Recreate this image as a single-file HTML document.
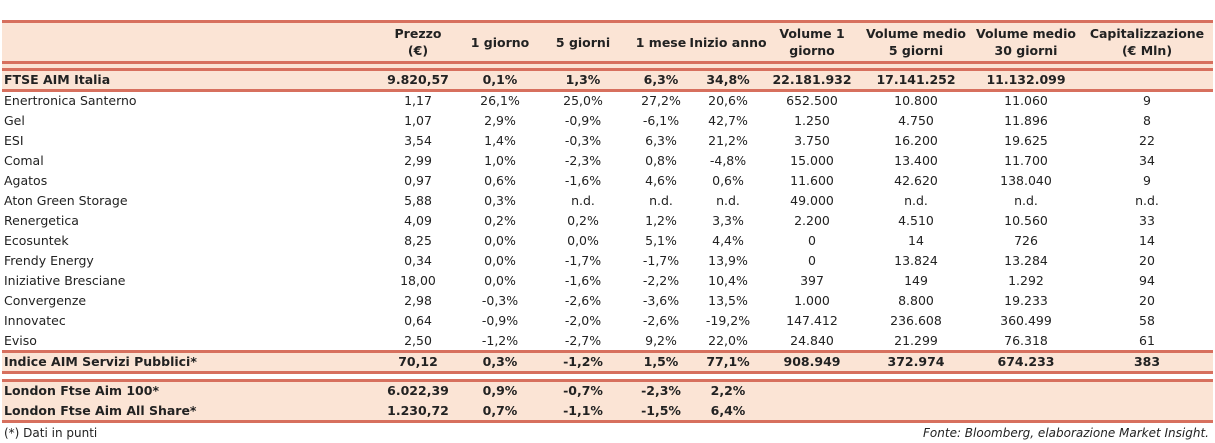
<!DOCTYPE html>
<html><head><meta charset="utf-8"><style>
body{margin:0;width:1215px;height:443px;background:#fff;font-family:"DejaVu Sans","Liberation Sans",sans-serif;position:relative;overflow:hidden;color:#222}
.band{position:absolute;left:2px;width:1211px;background:#fbe4d5}
.ln{position:absolute;left:2px;width:1211px;height:3px;background:#d7705e}
.c{position:absolute;white-space:nowrap;transform:translateX(-50%);font-size:12.5px;line-height:20px}
.n{position:absolute;left:4px;font-size:12.5px;line-height:20px;white-space:nowrap}
.b{font-weight:bold}
.h{position:absolute;transform:translateX(-50%);text-align:center;font-size:12.5px;font-weight:bold;line-height:17px;white-space:nowrap}
.foot{position:absolute;top:424px;font-size:12px;line-height:18px}
</style></head><body>
<div class="band" style="top:21px;height:49px"></div>
<div class="band" style="top:70px;height:20px"></div>
<div class="band" style="top:352px;height:21px"></div>
<div class="band" style="top:381px;height:40px"></div>
<div class="ln" style="top:20px"></div>
<div class="ln" style="top:61px"></div>
<div class="ln" style="top:68px"></div>
<div class="ln" style="top:89px"></div>
<div class="ln" style="top:350px"></div>
<div class="ln" style="top:371px"></div>
<div class="ln" style="top:379px"></div>
<div class="ln" style="top:420px"></div>
<div id="t"></div>
<div class="foot" style="left:4px">(*) Dati in punti</div>
<div class="foot" style="right:6px;font-style:italic">Fonte: Bloomberg, elaborazione Market Insight.</div>
<script>
const headers=[["Prezzo","(€)"],["1 giorno"],["5 giorni"],["1 mese"],["Inizio anno"],["Volume 1","giorno"],["Volume medio","5 giorni"],["Volume medio","30 giorni"],["Capitalizzazione","(€ Mln)"]];
const rowNames=["FTSE AIM Italia","Enertronica Santerno","Gel","ESI","Comal","Agatos","Aton Green Storage","Renergetica","Ecosuntek","Frendy Energy","Iniziative Bresciane","Convergenze","Innovatec","Eviso","Indice AIM Servizi Pubblici*","London Ftse Aim 100*","London Ftse Aim All Share*"];
const rowValues=[
["9.820,57","0,1%","1,3%","6,3%","34,8%","22.181.932","17.141.252","11.132.099",""],
["1,17","26,1%","25,0%","27,2%","20,6%","652.500","10.800","11.060","9"],
["1,07","2,9%","-0,9%","-6,1%","42,7%","1.250","4.750","11.896","8"],
["3,54","1,4%","-0,3%","6,3%","21,2%","3.750","16.200","19.625","22"],
["2,99","1,0%","-2,3%","0,8%","-4,8%","15.000","13.400","11.700","34"],
["0,97","0,6%","-1,6%","4,6%","0,6%","11.600","42.620","138.040","9"],
["5,88","0,3%","n.d.","n.d.","n.d.","49.000","n.d.","n.d.","n.d."],
["4,09","0,2%","0,2%","1,2%","3,3%","2.200","4.510","10.560","33"],
["8,25","0,0%","0,0%","5,1%","4,4%","0","14","726","14"],
["0,34","0,0%","-1,7%","-1,7%","13,9%","0","13.824","13.284","20"],
["18,00","0,0%","-1,6%","-2,2%","10,4%","397","149","1.292","94"],
["2,98","-0,3%","-2,6%","-3,6%","13,5%","1.000","8.800","19.233","20"],
["0,64","-0,9%","-2,0%","-2,6%","-19,2%","147.412","236.608","360.499","58"],
["2,50","-1,2%","-2,7%","9,2%","22,0%","24.840","21.299","76.318","61"],
["70,12","0,3%","-1,2%","1,5%","77,1%","908.949","372.974","674.233","383"],
["6.022,39","0,9%","-0,7%","-2,3%","2,2%","","","",""],
["1.230,72","0,7%","-1,1%","-1,5%","6,4%","","","",""]];
const boldRows=[0,14,15,16];
const colX=[418,500,583,661,728,812,916,1026,1147];
const rowY=[70,91,111,131,151,171,191,211,231,251,271,291,311,331,352,381,401];
const t=document.getElementById('t');
headers.forEach((h,i)=>{
 const d=document.createElement('div');d.className='h';
 
 
 d.style.left=colX[i]+'px';d.style.top=(h.length>1?25:34)+'px';
 d.innerHTML=h.join('<br>');t.appendChild(d);
});
rowNames.forEach((n,r)=>{
 const b=boldRows.includes(r)?' b':'';
 const d=document.createElement('div');d.className='n'+b;d.textContent=n;
 
 
 d.style.top=rowY[r]+'px';t.appendChild(d);
 rowValues[r].forEach((v,i)=>{
  if(!v)return;
  const c=document.createElement('div');c.className='c'+b;c.textContent=v;
  
  
  c.style.left=colX[i]+'px';c.style.top=rowY[r]+'px';t.appendChild(c);
 });
});
</script>
</body></html>
